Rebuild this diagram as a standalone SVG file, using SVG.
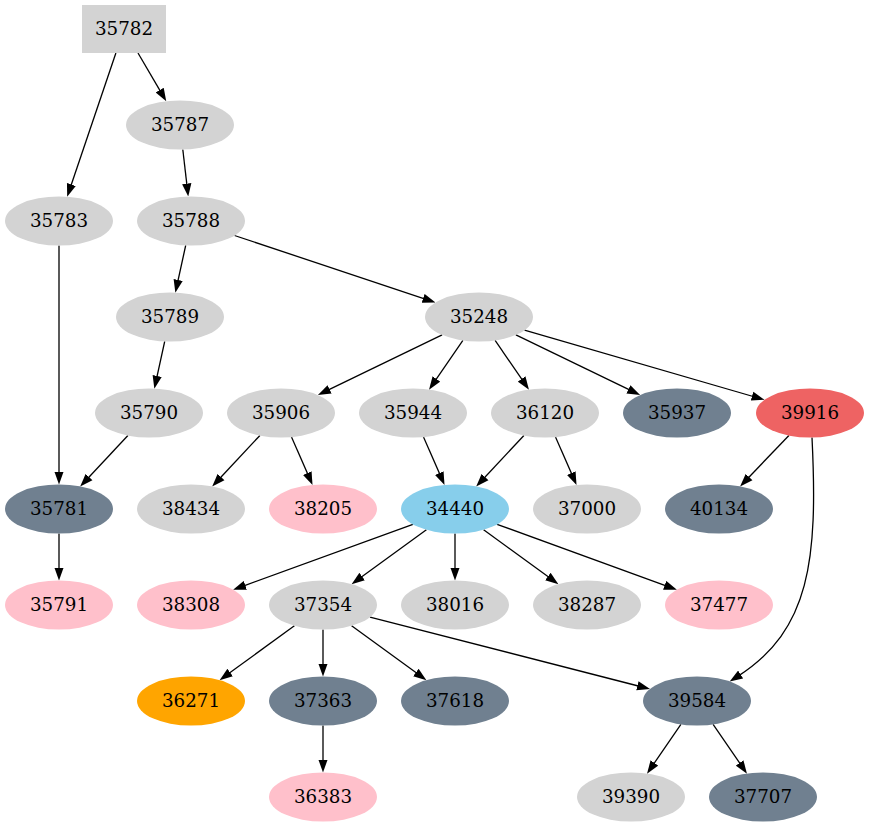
<svg xmlns="http://www.w3.org/2000/svg" width="869" height="827" viewBox="0 0 869 827">
<style>
text{font-family:"DejaVu Serif",serif;font-size:18.3px;text-anchor:middle;fill:#000}
.e{stroke:#000;stroke-width:1.3;fill:none}
.g{fill:#d3d3d3}.s{fill:#708090}.p{fill:#ffc0cb}.b{fill:#87ceeb}.o{fill:#ffa500}.r{fill:#ee6363}
</style>
<defs>
<marker id="a" markerUnits="userSpaceOnUse" markerWidth="13" markerHeight="10" viewBox="0 0 13 10" refX="3" refY="5" orient="auto">
<path d="M0,0.35 L13,5 L0,9.65 z" fill="#000"/>
</marker>
</defs>
<rect width="869" height="827" fill="#fff"/>
<g id="edges">
<path class="e" marker-end="url(#a)" d="M138,53 L161.2,92.7"/>
<path class="e" marker-end="url(#a)" d="M115.9,53 L70.4,187.3"/>
<path class="e" marker-end="url(#a)" d="M182.8,149.5 L187.1,186.6"/>
<path class="e" marker-end="url(#a)" d="M59,245.5 L59,474.5"/>
<path class="e" marker-end="url(#a)" d="M185.7,245.4 L177.5,282.9"/>
<path class="e" marker-end="url(#a)" d="M234.5,235.5 L426,299.3"/>
<path class="e" marker-end="url(#a)" d="M164.7,341.4 L156.5,378.9"/>
<path class="e" marker-end="url(#a)" d="M127.9,435.5 L87,479.2"/>
<path class="e" marker-end="url(#a)" d="M442.1,334.9 L326.9,390.7"/>
<path class="e" marker-end="url(#a)" d="M462.9,340.4 L434.7,381.4"/>
<path class="e" marker-end="url(#a)" d="M495.1,340.4 L523.3,381.4"/>
<path class="e" marker-end="url(#a)" d="M515.9,334.9 L631.1,390.7"/>
<path class="e" marker-end="url(#a)" d="M524.5,330.2 L754.9,397"/>
<path class="e" marker-end="url(#a)" d="M259.9,435.5 L219,479.2"/>
<path class="e" marker-end="url(#a)" d="M291.5,437 L308.5,475.8"/>
<path class="e" marker-end="url(#a)" d="M423.5,437 L440.5,475.8"/>
<path class="e" marker-end="url(#a)" d="M523.9,435.5 L483,479.2"/>
<path class="e" marker-end="url(#a)" d="M555.5,437 L572.5,475.8"/>
<path class="e" marker-end="url(#a)" d="M788.9,435.5 L747,479.2"/>
<path class="e" marker-end="url(#a)" d="M812,437.5 C818,560 810,630 738.1,676.1"/>
<path class="e" marker-end="url(#a)" d="M59,533.5 L59,570.5"/>
<path class="e" marker-end="url(#a)" d="M412.9,524.3 L242.5,586.3"/>
<path class="e" marker-end="url(#a)" d="M426.4,529.8 L359.7,578.3"/>
<path class="e" marker-end="url(#a)" d="M455,533.5 L455,570.5"/>
<path class="e" marker-end="url(#a)" d="M483.6,529.8 L550.3,578.3"/>
<path class="e" marker-end="url(#a)" d="M497.1,524.3 L667.5,586.3"/>
<path class="e" marker-end="url(#a)" d="M294.4,625.8 L227.7,674.3"/>
<path class="e" marker-end="url(#a)" d="M323,629.5 L323,666.5"/>
<path class="e" marker-end="url(#a)" d="M351.6,625.8 L418.3,674.3"/>
<path class="e" marker-end="url(#a)" d="M370,617.1 L640.3,686.5"/>
<path class="e" marker-end="url(#a)" d="M323,725.5 L323,762.5"/>
<path class="e" marker-end="url(#a)" d="M680.9,724.4 L652.7,765.4"/>
<path class="e" marker-end="url(#a)" d="M713.1,724.4 L741.3,765.4"/>
</g>
<g id="n35782"><rect class="g" x="82" y="5" width="84" height="48"/><text x="124" y="34.7">35782</text></g>
<g id="n35787"><ellipse class="g" cx="180" cy="125" rx="54" ry="24.5"/><text x="180" y="130.7">35787</text></g>
<g id="n35783"><ellipse class="g" cx="59" cy="221" rx="54" ry="24.5"/><text x="59" y="226.7">35783</text></g>
<g id="n35788"><ellipse class="g" cx="191" cy="221" rx="54" ry="24.5"/><text x="191" y="226.7">35788</text></g>
<g id="n35789"><ellipse class="g" cx="170" cy="317" rx="54" ry="24.5"/><text x="170" y="322.7">35789</text></g>
<g id="n35248"><ellipse class="g" cx="479" cy="317" rx="54" ry="24.5"/><text x="479" y="322.7">35248</text></g>
<g id="n35790"><ellipse class="g" cx="149" cy="413" rx="54" ry="24.5"/><text x="149" y="418.7">35790</text></g>
<g id="n35906"><ellipse class="g" cx="281" cy="413" rx="54" ry="24.5"/><text x="281" y="418.7">35906</text></g>
<g id="n35944"><ellipse class="g" cx="413" cy="413" rx="54" ry="24.5"/><text x="413" y="418.7">35944</text></g>
<g id="n36120"><ellipse class="g" cx="545" cy="413" rx="54" ry="24.5"/><text x="545" y="418.7">36120</text></g>
<g id="n35937"><ellipse class="s" cx="677" cy="413" rx="54" ry="24.5"/><text x="677" y="418.7">35937</text></g>
<g id="n39916"><ellipse class="r" cx="810" cy="413" rx="54" ry="24.5"/><text x="810" y="418.7">39916</text></g>
<g id="n35781"><ellipse class="s" cx="59" cy="509" rx="54" ry="24.5"/><text x="59" y="514.7">35781</text></g>
<g id="n38434"><ellipse class="g" cx="191" cy="509" rx="54" ry="24.5"/><text x="191" y="514.7">38434</text></g>
<g id="n38205"><ellipse class="p" cx="323" cy="509" rx="54" ry="24.5"/><text x="323" y="514.7">38205</text></g>
<g id="n34440"><ellipse class="b" cx="455" cy="509" rx="54" ry="24.5"/><text x="455" y="514.7">34440</text></g>
<g id="n37000"><ellipse class="g" cx="587" cy="509" rx="54" ry="24.5"/><text x="587" y="514.7">37000</text></g>
<g id="n40134"><ellipse class="s" cx="719" cy="509" rx="54" ry="24.5"/><text x="719" y="514.7">40134</text></g>
<g id="n35791"><ellipse class="p" cx="59" cy="605" rx="54" ry="24.5"/><text x="59" y="610.7">35791</text></g>
<g id="n38308"><ellipse class="p" cx="191" cy="605" rx="54" ry="24.5"/><text x="191" y="610.7">38308</text></g>
<g id="n37354"><ellipse class="g" cx="323" cy="605" rx="54" ry="24.5"/><text x="323" y="610.7">37354</text></g>
<g id="n38016"><ellipse class="g" cx="455" cy="605" rx="54" ry="24.5"/><text x="455" y="610.7">38016</text></g>
<g id="n38287"><ellipse class="g" cx="587" cy="605" rx="54" ry="24.5"/><text x="587" y="610.7">38287</text></g>
<g id="n37477"><ellipse class="p" cx="719" cy="605" rx="54" ry="24.5"/><text x="719" y="610.7">37477</text></g>
<g id="n36271"><ellipse class="o" cx="191" cy="701" rx="54" ry="24.5"/><text x="191" y="706.7">36271</text></g>
<g id="n37363"><ellipse class="s" cx="323" cy="701" rx="54" ry="24.5"/><text x="323" y="706.7">37363</text></g>
<g id="n37618"><ellipse class="s" cx="455" cy="701" rx="54" ry="24.5"/><text x="455" y="706.7">37618</text></g>
<g id="n39584"><ellipse class="s" cx="697" cy="701" rx="54" ry="24.5"/><text x="697" y="706.7">39584</text></g>
<g id="n36383"><ellipse class="p" cx="323" cy="797" rx="54" ry="24.5"/><text x="323" y="802.7">36383</text></g>
<g id="n39390"><ellipse class="g" cx="631" cy="797" rx="54" ry="24.5"/><text x="631" y="802.7">39390</text></g>
<g id="n37707"><ellipse class="s" cx="763" cy="797" rx="54" ry="24.5"/><text x="763" y="802.7">37707</text></g>
</svg>
